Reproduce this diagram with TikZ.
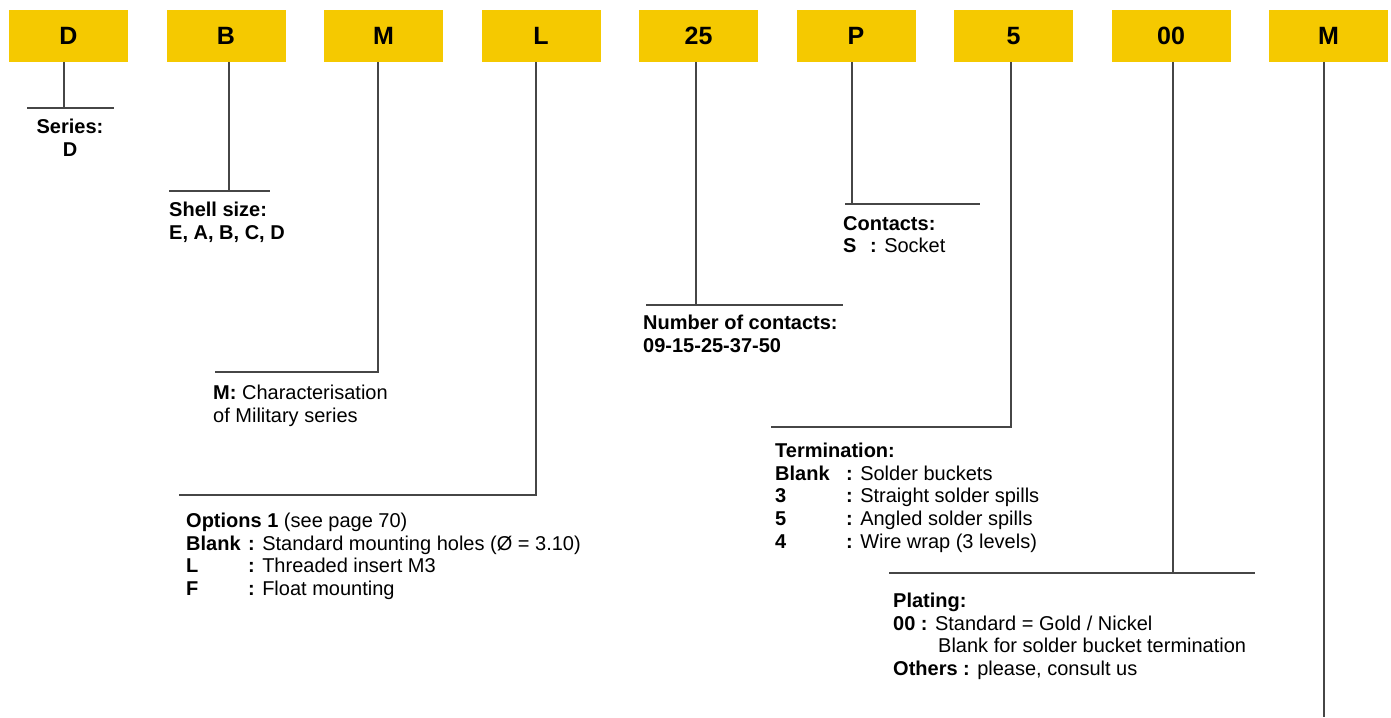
\documentclass[tikz,border=0pt]{standalone}
\usepackage{fontspec}
\setmainfont{Liberation Sans}
\usetikzlibrary{positioning}
\definecolor{codeyellow}{RGB}{245,201,0}
\definecolor{leadgray}{RGB}{70,70,70}
\tikzset{
  codebox/.style={fill=codeyellow, minimum width=119pt, minimum height=52pt, inner sep=0pt, font=\fontsize{25}{28}\selectfont\bfseries},
  leader/.style={draw=leadgray, line width=1.3pt},
  legend/.style={anchor=north west, inner sep=0pt, align=left, font=\fontsize{20}{22.6}\selectfont},
}
\begin{document}
\begin{tikzpicture}[x=1pt, y=-1pt, node distance=38.1pt]
  \useasboundingbox (0,0) rectangle (1391,717);

  % Code boxes
  \node[codebox] (bD) at (68.5,36) {D};
  \node[codebox, right=of bD] (bB) {B};
  \node[codebox, right=of bB] (bM) {M};
  \node[codebox, right=of bM] (bL) {L};
  \node[codebox, right=of bL] (b25) {25};
  \node[codebox, right=of b25] (bP) {P};
  \node[codebox, right=of bP] (b5) {5};
  \node[codebox, right=of b5] (b00) {00};
  \node[codebox, right=of b00] (bMil) {M};

  % Knees and shelves
  \coordinate (kD) at (64,108);    \coordinate (sD1) at (27,108);   \coordinate (sD2) at (114,108);
  \coordinate (kB) at (229,191);   \coordinate (sB1) at (169,191);  \coordinate (sB2) at (270,191);
  \coordinate (kM) at (378,372);   \coordinate (sM1) at (215,372);
  \coordinate (kL) at (536,495);   \coordinate (sL1) at (179,495);
  \coordinate (k25) at (696,305);  \coordinate (s251) at (646,305); \coordinate (s252) at (843,305);
  \coordinate (kP) at (852,204);   \coordinate (sP1) at (845,204);  \coordinate (sP2) at (980,204);
  \coordinate (k5) at (1011,427);  \coordinate (s51) at (771,427);
  \coordinate (k00) at (1173,573); \coordinate (s001) at (889,573); \coordinate (s002) at (1255,573);
  \coordinate (kMil) at (1324,717);

  % Leader lines
  \draw[leader] (bD.south -| kD) -- (kD) (sD1) -- (sD2);
  \draw[leader] (bB.south -| kB) -- (kB) (sB1) -- (sB2);
  \draw[leader] (bM.south -| kM) -- (kM) -- (sM1);
  \draw[leader] (bL.south -| kL) -- (kL) -- (sL1);
  \draw[leader] (b25.south -| k25) -- (k25) (s251) -- (s252);
  \draw[leader] (bP.south -| kP) -- (kP) (sP1) -- (sP2);
  \draw[leader] (b5.south -| k5) -- (k5) -- (s51);
  \draw[leader] (b00.south -| k00) -- (k00) (s001) -- (s002);
  \draw[leader] (bMil.south -| kMil) -- (kMil);

  % Legends
  \node[legend, anchor=north, align=center] (lSeries) at (70,119) {\textbf{Series:}\\\textbf{D}};
  \node[legend] (lShell) at (169,202) {\textbf{Shell size:}\\\textbf{E, A, B, C, D}};
  \node[legend] (lMil) at (213,385) {\textbf{M:} Characterisation\\of Military series};
  \node[legend] (lOpt) at (186,513) {\textbf{Options 1} (see page 70)\\
    \makebox[62pt][l]{\textbf{Blank}}\textbf{:} Standard mounting holes (Ø = 3.10)\\
    \makebox[62pt][l]{\textbf{L}}\textbf{:} Threaded insert M3\\
    \makebox[62pt][l]{\textbf{F}}\textbf{:} Float mounting};
  \node[legend] (lNum) at (643,315) {\textbf{Number of contacts:}\\\textbf{09-15-25-37-50}};
  \node[legend] (lCont) at (843,216) {\textbf{Contacts:}\\\makebox[27pt][l]{\textbf{S}}\textbf{:} Socket};
  \node[legend] (lTerm) at (775,443) {\textbf{Termination:}\\
    \makebox[71pt][l]{\textbf{Blank}}\textbf{:} Solder buckets\\
    \makebox[71pt][l]{\textbf{3}}\textbf{:} Straight solder spills\\
    \makebox[71pt][l]{\textbf{5}}\textbf{:} Angled solder spills\\
    \makebox[71pt][l]{\textbf{4}}\textbf{:} Wire wrap (3 levels)};
  \node[legend] (lPlat) at (893,593) {\textbf{Plating:}\\
    \textbf{00 :} Standard = Gold / Nickel\\
    \hspace*{45pt}Blank for solder bucket termination\\
    \textbf{Others :} please, consult us};
\end{tikzpicture}
\end{document}
